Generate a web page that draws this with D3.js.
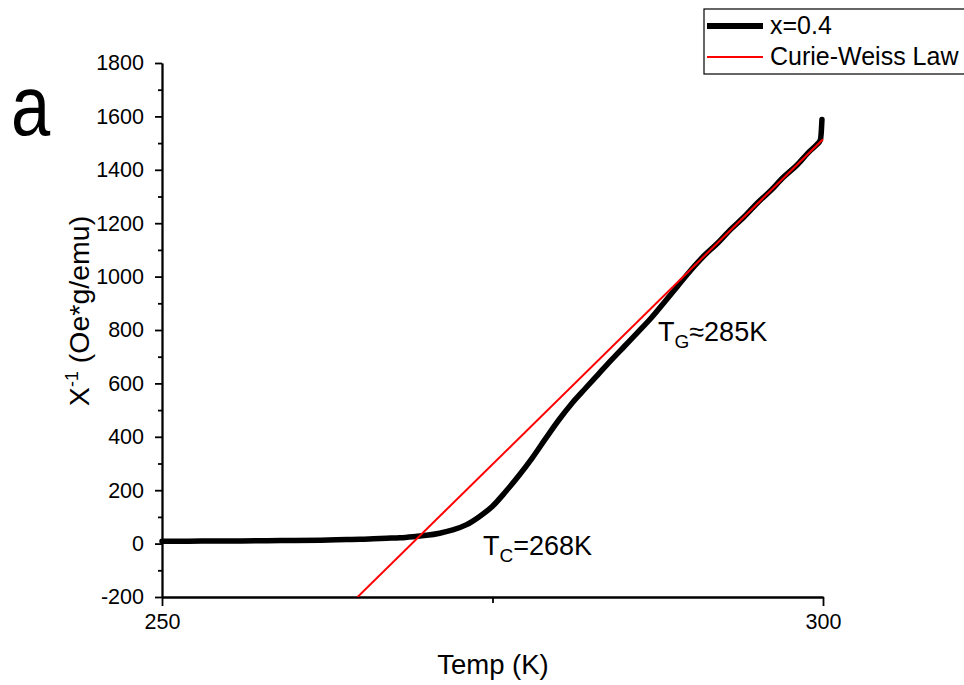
<!DOCTYPE html>
<html>
<head>
<meta charset="utf-8">
<script src="https://cdn.jsdelivr.net/npm/d3@7/dist/d3.min.js"></script>
<style>
  html, body { margin: 0; padding: 0; background: #fff; }
  svg { display: block; }
  svg text { font-family: "Liberation Sans", Arial, sans-serif; fill: #000; }
</style>
</head>
<body>
<svg id="chart" width="964" height="685"></svg>
<script>
// Inverse susceptibility vs temperature for x = 0.4
const temps = [250, 252, 254, 256, 258, 260, 262, 264, 265, 266, 267, 268, 269, 270, 271, 272, 273, 274, 275, 276, 277, 278, 279, 280, 281, 282, 283, 284, 285, 286, 287, 288, 289, 290, 291, 292, 293, 294, 295, 296, 297, 298, 299, 299.5, 299.8, 299.88, 299.92];
const chiInv = [9, 9, 10, 10, 11, 12, 13, 15, 16, 18, 20, 22, 26, 31, 39, 51, 70, 101, 140, 195, 255, 320, 392, 462, 525, 580, 634, 688, 740, 792, 845, 904, 964, 1024, 1078, 1124, 1176, 1222, 1274, 1320, 1372, 1416, 1470, 1493, 1512, 1550, 1588];

// Curie-Weiss fit: 1/chi = (T - theta) / C
const cwTheta = 268.9;
const cwSlope = 48.7;
const cwTemps = [264.8, 300];

const xTicksMajor = [250, 300];
const xTicksMinor = [275];
const yTicksMajor = [-200, 0, 200, 400, 600, 800, 1000, 1200, 1400, 1600, 1800];
const yTicksMinor = [-100, 100, 300, 500, 700, 900, 1100, 1300, 1500, 1700];

const FONT = "'Liberation Sans', Arial, sans-serif";
const svg = d3.select("#chart");
const plotLeft = 162, plotRight = 823, plotTop = 63, plotBottom = 597;

const x = d3.scaleLinear().domain([250, 300]).range([plotLeft, plotRight]);
const y = d3.scaleLinear().domain([-200, 1800]).range([plotBottom, plotTop]);

// clip the fit line to the plot area
svg.append("clipPath").attr("id", "plotClip")
  .append("rect").attr("x", plotLeft).attr("y", plotTop - 40)
  .attr("width", plotRight - plotLeft + 2).attr("height", plotBottom - plotTop + 40);

// axes
const plain = d => String(d);
const yAxisMinor = d3.axisLeft(y).tickValues(yTicksMinor).tickSize(4).tickSizeOuter(0).tickFormat("");
const yAxisMajor = d3.axisLeft(y).tickValues(yTicksMajor).tickSize(7).tickSizeOuter(0).tickPadding(11).tickFormat(plain);
const xAxisMinor = d3.axisBottom(x).tickValues(xTicksMinor).tickSize(6).tickSizeOuter(0).tickFormat("");
const xAxisMajor = d3.axisBottom(x).tickValues(xTicksMajor).tickSize(9).tickSizeOuter(0).tickPadding(8).tickFormat(plain);

function styleAxis(g) {
  g.attr("font-family", FONT).attr("font-size", 21.5);
  g.select(".domain").attr("stroke", "#000").attr("stroke-width", 1.8);
  g.selectAll(".tick line").attr("stroke", "#000").attr("stroke-width", 1.8);
  g.selectAll(".tick text").attr("fill", "#000");
}

svg.append("g").attr("transform", `translate(${plotLeft},0)`).call(yAxisMinor).call(styleAxis);
svg.append("g").attr("transform", `translate(${plotLeft},0)`).call(yAxisMajor).call(styleAxis);
svg.append("g").attr("transform", `translate(0,${plotBottom})`).call(xAxisMinor).call(styleAxis);
svg.append("g").attr("transform", `translate(0,${plotBottom})`).call(xAxisMajor).call(styleAxis);

// data line
const line = d3.line().x(d => x(d[0])).y(d => y(d[1])).curve(d3.curveMonotoneX);
svg.append("path")
  .datum(temps.map((t, i) => [t, chiInv[i]]))
  .attr("d", line)
  .attr("fill", "none").attr("stroke", "#000").attr("stroke-width", 5.5)
  .attr("stroke-linejoin", "round").attr("stroke-linecap", "round");

// Curie-Weiss fit line
svg.append("path")
  .datum(cwTemps.map(t => [t, cwSlope * (t - cwTheta)]))
  .attr("d", d3.line().x(d => x(d[0])).y(d => y(d[1])))
  .attr("clip-path", "url(#plotClip)")
  .attr("fill", "none").attr("stroke", "#ff0000").attr("stroke-width", 2);

// axis titles
svg.append("text").attr("x", 493).attr("y", 674)
  .attr("text-anchor", "middle").attr("font-family", FONT).attr("font-size", 27.5).text("Temp (K)");

const yTitle = svg.append("text").attr("transform", "translate(89,311) rotate(-90)")
  .attr("text-anchor", "middle").attr("font-family", FONT).attr("font-size", 28.5);
yTitle.append("tspan").text("X");
yTitle.append("tspan").attr("dy", -11).attr("font-size", 18).text("-1");
yTitle.append("tspan").attr("dy", 11).text(" (Oe*g/emu)");

// annotations
const tc = svg.append("text").attr("x", 483).attr("y", 555).attr("font-family", FONT).attr("font-size", 27);
tc.append("tspan").text("T");
tc.append("tspan").attr("dy", 7).attr("font-size", 19).text("C");
tc.append("tspan").attr("dy", -7).text("=268K");

const tg = svg.append("text").attr("x", 658).attr("y", 341).attr("font-family", FONT).attr("font-size", 27);
tg.append("tspan").text("T");
tg.append("tspan").attr("dy", 7).attr("font-size", 19).text("G");
tg.append("tspan").attr("dy", -7).text("≈285K");

// panel letter
svg.append("text").attr("transform", "translate(11,135) scale(0.82,1)")
  .attr("font-family", "'Open Sans', 'Noto Sans', sans-serif").attr("font-size", 86)
  .attr("font-weight", 500).text("a");

// legend
const legend = svg.append("g");
legend.append("rect").attr("x", 704).attr("y", 9).attr("width", 270).attr("height", 65)
  .attr("fill", "#fff").attr("stroke", "#000").attr("stroke-width", 1.2);
const legendItems = [
  { label: "x=0.4", color: "#000", width: 6 },
  { label: "Curie-Weiss Law", color: "#ff0000", width: 2 }
];
legendItems.forEach((d, i) => {
  const cy = 26 + i * 31;
  legend.append("line").attr("x1", 707).attr("x2", 763).attr("y1", cy).attr("y2", cy)
    .attr("stroke", d.color).attr("stroke-width", d.width);
  legend.append("text").attr("x", 770).attr("y", cy + 8)
    .attr("font-family", FONT).attr("font-size", 25).text(d.label);
});
</script>
</body>
</html>
